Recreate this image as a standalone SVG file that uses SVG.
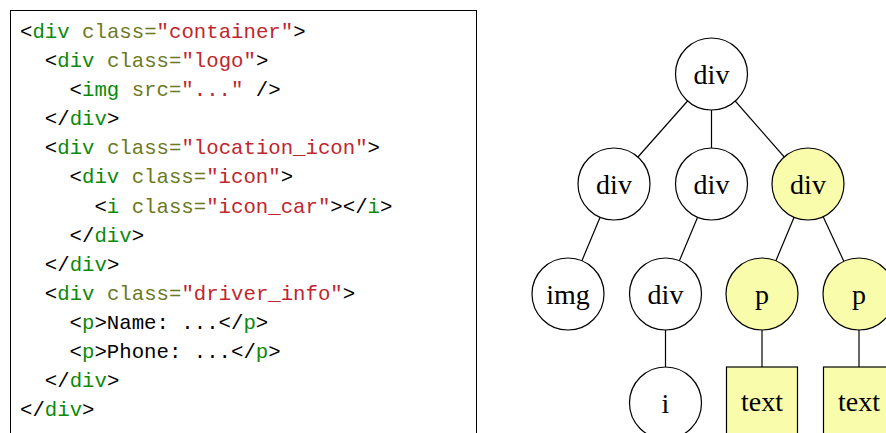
<svg xmlns="http://www.w3.org/2000/svg" width="886" height="433" viewBox="0 0 886 433">
<style>
.code{font-family:"Liberation Mono","DejaVu Sans Mono",monospace;font-size:20.7px;fill:#000}
.t{fill:#0a8a0a}
.a{fill:#6b7a1e}
.s{fill:#c0262d}
.lbl{font-family:"Liberation Serif","Times New Roman",serif;font-size:28px;text-anchor:middle;fill:#000}
.n{fill:#fff;stroke:#000;stroke-width:1.2}
.y{fill:#f9fcaa;stroke:#000;stroke-width:1.2}
.e{stroke:#000;stroke-width:1.2;fill:none}
</style>
<rect x="10.5" y="10.5" width="466" height="440" fill="#fff" stroke="#000" stroke-width="1"/>
<g id="code" class="code">
<text x="20" y="38">&lt;<tspan class="t">div</tspan> <tspan class="a">class=</tspan><tspan class="s">"container"</tspan>&gt;</text>
<text x="44.8" y="67.1">&lt;<tspan class="t">div</tspan> <tspan class="a">class=</tspan><tspan class="s">"logo"</tspan>&gt;</text>
<text x="69.6" y="96.2">&lt;<tspan class="t">img</tspan> <tspan class="a">src=</tspan><tspan class="s">"..."</tspan> /&gt;</text>
<text x="44.8" y="125.2">&lt;/<tspan class="t">div</tspan>&gt;</text>
<text x="44.8" y="154.3">&lt;<tspan class="t">div</tspan> <tspan class="a">class=</tspan><tspan class="s">"location_icon"</tspan>&gt;</text>
<text x="69.6" y="183.4">&lt;<tspan class="t">div</tspan> <tspan class="a">class=</tspan><tspan class="s">"icon"</tspan>&gt;</text>
<text x="94.4" y="212.5">&lt;<tspan class="t">i</tspan> <tspan class="a">class=</tspan><tspan class="s">"icon_car"</tspan>&gt;&lt;/<tspan class="t">i</tspan>&gt;</text>
<text x="69.6" y="241.6">&lt;/<tspan class="t">div</tspan>&gt;</text>
<text x="44.8" y="270.6">&lt;/<tspan class="t">div</tspan>&gt;</text>
<text x="44.8" y="299.7">&lt;<tspan class="t">div</tspan> <tspan class="a">class=</tspan><tspan class="s">"driver_info"</tspan>&gt;</text>
<text x="69.6" y="328.8">&lt;<tspan class="t">p</tspan>&gt;Name: ...&lt;/<tspan class="t">p</tspan>&gt;</text>
<text x="69.6" y="357.9">&lt;<tspan class="t">p</tspan>&gt;Phone: ...&lt;/<tspan class="t">p</tspan>&gt;</text>
<text x="44.8" y="387">&lt;/<tspan class="t">div</tspan>&gt;</text>
<text x="20" y="416">&lt;/<tspan class="t">div</tspan>&gt;</text>
</g>
<g id="edges">
<line class="e" x1="711.5" y1="74" x2="614" y2="184"/>
<line class="e" x1="711.5" y1="74" x2="711.5" y2="184"/>
<line class="e" x1="711.5" y1="74" x2="808" y2="184"/>
<line class="e" x1="614" y1="184" x2="568" y2="294"/>
<line class="e" x1="711.5" y1="184" x2="665.5" y2="294"/>
<line class="e" x1="808" y1="184" x2="762" y2="294"/>
<line class="e" x1="808" y1="184" x2="859" y2="294"/>
<line class="e" x1="665.5" y1="294" x2="665.5" y2="403"/>
<line class="e" x1="762" y1="294" x2="762" y2="367"/>
<line class="e" x1="859" y1="294" x2="859" y2="367"/>
</g>
<g id="root"><circle class="n" cx="711.5" cy="74" r="36"/><text class="lbl" x="711.5" y="83.5">div</text></g>
<g id="div-logo"><circle class="n" cx="614" cy="184" r="36"/><text class="lbl" x="614" y="193.5">div</text></g>
<g id="div-location"><circle class="n" cx="711.5" cy="184" r="36"/><text class="lbl" x="711.5" y="193.5">div</text></g>
<g id="div-driver"><circle class="y" cx="808" cy="184" r="36"/><text class="lbl" x="808" y="193.5">div</text></g>
<g id="img"><circle class="n" cx="568" cy="294" r="36"/><text class="lbl" x="568" y="303.5">img</text></g>
<g id="div-icon"><circle class="n" cx="665.5" cy="294" r="36"/><text class="lbl" x="665.5" y="303.5">div</text></g>
<g id="p1"><circle class="y" cx="762" cy="294" r="36"/><text class="lbl" x="762" y="303.5">p</text></g>
<g id="p2"><circle class="y" cx="859" cy="294" r="36"/><text class="lbl" x="859" y="303.5">p</text></g>
<g id="i"><circle class="n" cx="665.5" cy="403" r="36"/><text class="lbl" x="665.5" y="412.5">i</text></g>
<g id="text1"><rect class="y" x="726.5" y="367" width="71" height="72"/><text class="lbl" x="762" y="411">text</text></g>
<g id="text2"><rect class="y" x="823.5" y="367" width="71" height="72"/><text class="lbl" x="859" y="411">text</text></g>
</svg>
